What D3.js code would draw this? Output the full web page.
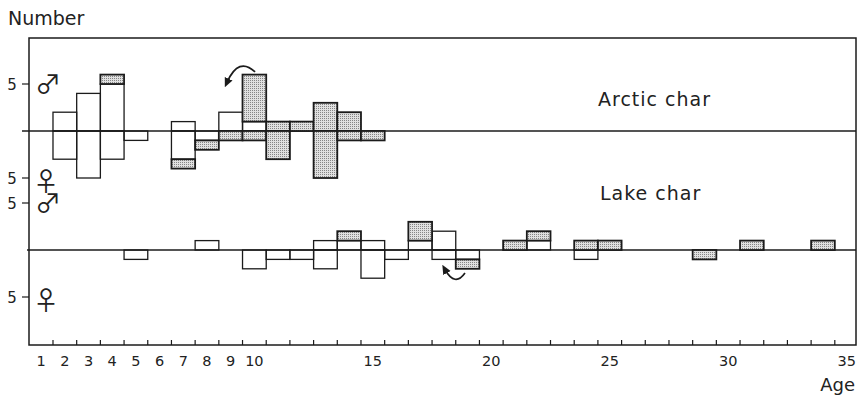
<!DOCTYPE html>
<html><head><meta charset="utf-8">
<script src="https://cdn.jsdelivr.net/npm/d3@7"></script>
<style>
html,body{margin:0;padding:0;background:#fff;}
svg{display:block;font-family:"DejaVu Sans",sans-serif;}
.sym{font-family:"Noto Sans CJK JP","DejaVu Sans",sans-serif;}
</style></head>
<body>
<svg id="c" width="858" height="400"></svg>
<script>
(function(){
// ---- data (number of fish by age) ----
const ages = d3.range(1, 36);
// Arctic char
const arcticMaleWhite    = [0,2,4,5,0,0,1,0,2,1,0,0,0,0,0, 0,0,0,0,0,0,0,0,0,0,0,0,0,0,0,0,0,0,0,0];
const arcticMaleShaded   = [0,0,0,1,0,0,0,0,0,5,1,1,3,2,0, 0,0,0,0,0,0,0,0,0,0,0,0,0,0,0,0,0,0,0,0];
const arcticFemaleWhite  = [0,3,5,3,1,0,3,1,0,0,0,0,0,0,0, 0,0,0,0,0,0,0,0,0,0,0,0,0,0,0,0,0,0,0,0];
const arcticFemaleShaded = [0,0,0,0,0,0,1,1,1,1,3,0,5,1,1, 0,0,0,0,0,0,0,0,0,0,0,0,0,0,0,0,0,0,0,0];
// Lake char
const lakeMaleWhite      = [0,0,0,0,0,0,0,1,0,0,0,0,1,1,1, 0,1,2,0,0,0,1,0,0,0,0,0,0,0,0,0,0,0,0,0];
const lakeMaleShaded     = [0,0,0,0,0,0,0,0,0,0,0,0,0,1,0, 0,2,0,0,0,1,1,0,1,1,0,0,0,0,0,1,0,0,1,0];
const lakeFemaleWhite    = [0,0,0,0,1,0,0,0,0,2,1,1,2,0,3, 1,0,1,1,0,0,0,0,1,0,0,0,0,0,0,0,0,0,0,0];
const lakeFemaleShaded   = [0,0,0,0,0,0,0,0,0,0,0,0,0,0,0, 0,0,0,1,0,0,0,0,0,0,0,0,0,1,0,0,0,0,0,0];
const xTickLabels = ["1","2","3","4","5","6","7","8","9","10","15","20","25","30","35"];
const yTickLabels = ["5"];
const panelNames = ["Arctic char", "Lake char"];

// ---- layout ----
const svg = d3.select("#c");
const fL = 29, fR = 856, fT = 38, fB = 345;
const x = d3.scaleLinear().domain([0.5, 35.5]).range([29.3, 858.5]);
const yA = d3.scaleLinear().domain([-5, 5]).range([178, 84]);
const yL = d3.scaleLinear().domain([-5, 5]).range([297, 203]);
const ink = "#1b1b1b";

const defs = svg.append("defs");
const pat = defs.append("pattern").attr("id","dots").attr("patternUnits","userSpaceOnUse")
  .attr("width",2).attr("height",2);
pat.append("rect").attr("width",2).attr("height",2).attr("fill","#e0e0e0");
pat.append("rect").attr("width",1).attr("height",1).attr("fill","#858585");

// frame
svg.append("rect").attr("x",fL).attr("y",fT).attr("width",fR-fL).attr("height",fB-fT)
  .attr("fill","none").attr("stroke",ink).attr("stroke-width",1.5);

// x ticks (at class boundaries, pointing inward)
const tickPos = d3.range(1, 35).map(a => a + 0.5);
svg.append("g").selectAll("line").data(tickPos).join("line")
  .attr("x1", d => x(d)).attr("x2", d => x(d))
  .attr("y1", fB).attr("y2", fB - 5)
  .attr("stroke", ink).attr("stroke-width", 1.2);
svg.append("g").selectAll("text").data(xTickLabels).join("text")
  .attr("x", d => x(+d)).attr("y", 366)
  .attr("text-anchor","middle").attr("font-size",14.5).attr("fill","#222")
  .text(d => d);

function panel(y, mW, mS, fW, fS, name, nameX, nameY, baseX0) {
  const g = svg.append("g");
  g.append("line").attr("x1", baseX0).attr("x2", fR).attr("y1", y(0)).attr("y2", y(0))
    .attr("stroke", ink).attr("stroke-width", 1.4);
  const rects = [];
  ages.forEach((a, i) => {
    if (mW[i]) rects.push({a, y0: 0, y1: mW[i], s: false});
    if (mS[i]) rects.push({a, y0: mW[i], y1: mW[i] + mS[i], s: true});
    if (fW[i]) rects.push({a, y0: 0, y1: -fW[i], s: false});
    if (fS[i]) rects.push({a, y0: -fW[i], y1: -(fW[i] + fS[i]), s: true});
  });
  g.selectAll("rect").data(rects.sort((p, q) => p.s - q.s)).join("rect")
    .attr("x", d => x(d.a - 0.5)).attr("width", d => x(d.a + 0.5) - x(d.a - 0.5))
    .attr("y", d => Math.min(y(d.y0), y(d.y1)))
    .attr("height", d => Math.abs(y(d.y0) - y(d.y1)))
    .attr("fill", d => d.s ? "url(#dots)" : "none")
    .attr("stroke", ink).attr("stroke-width", d => d.s ? 1.8 : 1.3);
  [5, -5].forEach(v => {
    g.append("line").attr("x1", fL - 7).attr("x2", fL).attr("y1", y(v)).attr("y2", y(v))
      .attr("stroke", ink).attr("stroke-width", 1.2);
    g.append("text").attr("x", 12).attr("y", y(v) + 5.5).attr("text-anchor","middle")
      .attr("font-size", 15).attr("fill","#222").text(yTickLabels[0]);
  });
  g.append("text").attr("class","sym").attr("x", 35).attr("y", y(5) + 10).attr("font-size", 26).attr("fill","#222").text("\u2642");
  g.append("text").attr("class","sym").attr("x", 33).attr("y", y(-5) + 13).attr("font-size", 26).attr("fill","#222").text("\u2640");
  g.append("text").attr("x", nameX).attr("y", nameY).attr("font-size", 19)
    .attr("letter-spacing", 1).attr("fill","#222").text(name);
}
panel(yA, arcticMaleWhite, arcticMaleShaded, arcticFemaleWhite, arcticFemaleShaded, panelNames[0], 598, 106, 22);
panel(yL, lakeMaleWhite, lakeMaleShaded, lakeFemaleWhite, lakeFemaleShaded, panelNames[1], 600, 200, 27);

// arrows (annotations)
defs.append("marker").attr("id","ah").attr("viewBox","0 0 10 10").attr("refX",4).attr("refY",5)
  .attr("markerWidth",5.5).attr("markerHeight",5.5).attr("orient","auto")
  .append("path").attr("d","M0,0.5 L10,5 L0,9.5 Z").attr("fill",ink);
svg.append("path")
  .attr("d", `M${x(10.03)},${yA(6.28)} Q${x(9.34)},${yA(7.95)} ${x(8.85)},${yA(5.2)}`)
  .attr("fill","none").attr("stroke",ink).attr("stroke-width",1.7).attr("marker-end","url(#ah)");
svg.append("path")
  .attr("d", `M${x(18.89)},${yL(-2.45)} Q${x(18.47)},${yL(-3.95)} ${x(18.05)},${yL(-2.1)}`)
  .attr("fill","none").attr("stroke",ink).attr("stroke-width",1.7).attr("marker-end","url(#ah)");

svg.append("text").attr("x", 8).attr("y", 25).attr("font-size", 19).attr("fill","#222").text("Number");
svg.append("text").attr("x", 855).attr("y", 391).attr("text-anchor","end").attr("font-size", 18).attr("fill","#222").text("Age");
})();
</script>
</body></html>
